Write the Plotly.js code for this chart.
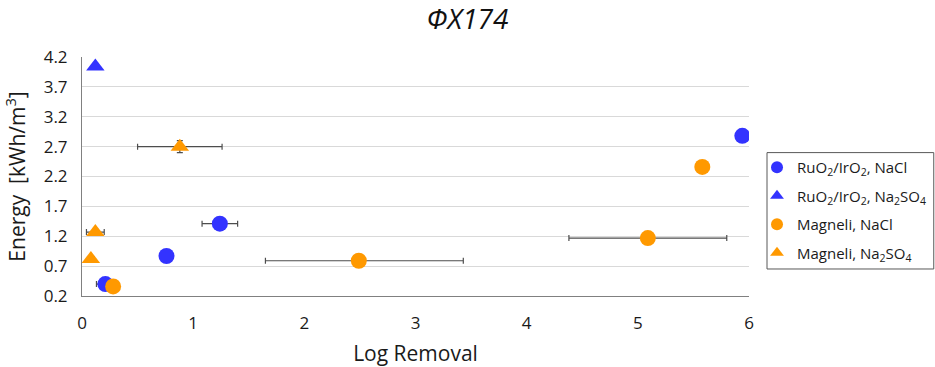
<!DOCTYPE html>
<html>
<head>
<meta charset="utf-8">
<script src="https://cdn.plot.ly/plotly-3.0.1.min.js"></script>
<style>
  html, body { margin: 0; padding: 0; background: #fff; }
  #chart { width: 935px; height: 367px; }
</style>
</head>
<body>
<div id="chart"></div>
<script>
// RuO2/IrO2 anode, NaCl electrolyte
const ruNaclX = [0.21, 0.76, 1.24, 5.94];
const ruNaclY = [0.40, 0.87, 1.41, 2.88];
const ruNaclErrX = [0.08, 0, 0.16, 0];

// RuO2/IrO2 anode, Na2SO4 electrolyte
const ruSulfX = [0.12];
const ruSulfY = [4.04];

// Magneli anode, NaCl electrolyte
const magNaclX = [0.28, 2.49, 5.09, 5.58];
const magNaclY = [0.36, 0.79, 1.17, 2.36];
const magNaclErrPlus = [0, 0.94, 0.71, 0];
const magNaclErrMinus = [0, 0.84, 0.71, 0];

// Magneli anode, Na2SO4 electrolyte
const magSulfX = [0.08, 0.12, 0.88];
const magSulfY = [0.82, 1.27, 2.70];
const magSulfErrX = [0.03, 0.08, 0.38];
const magSulfErrY = [0, 0, 0.1];

const seriesNames = [
  'RuO<sub>2</sub>/IrO<sub>2</sub>, NaCl',
  'RuO<sub>2</sub>/IrO<sub>2</sub>, Na<sub>2</sub>SO<sub>4</sub>',
  'Magneli, NaCl',
  'Magneli, Na<sub>2</sub>SO<sub>4</sub>'
];

const xTicks = [0, 1, 2, 3, 4, 5, 6];
const yTicks = [0.2, 0.7, 1.2, 1.7, 2.2, 2.7, 3.2, 3.7, 4.2];

const BLUE = '#3333ff';
const ORANGE = '#ff9900';
const ERR = '#4d4d4d';
const FONT = 'Open Sans, Noto Sans, sans-serif';
const TEXT = '#1a1a1a';

function errStyle(extra) {
  return Object.assign({ type: 'data', color: ERR, thickness: 1.2, width: 3 }, extra);
}

const traces = [
  {
    x: ruNaclX, y: ruNaclY, name: seriesNames[0], legendgroup: 'g1',
    type: 'scatter', mode: 'markers',
    marker: { color: BLUE, size: 16, symbol: 'circle' },
    error_x: errStyle({ array: ruNaclErrX, symmetric: true })
  },
  {
    x: ruSulfX, y: ruSulfY, name: seriesNames[1], legendgroup: 'g2',
    type: 'scatter', mode: 'markers',
    marker: { color: BLUE, size: 16, symbol: 'triangle-up' }
  },
  {
    x: magNaclX, y: magNaclY, name: seriesNames[2], legendgroup: 'g3',
    type: 'scatter', mode: 'markers',
    marker: { color: ORANGE, size: 16, symbol: 'circle' },
    error_x: errStyle({ array: magNaclErrPlus, arrayminus: magNaclErrMinus, symmetric: false })
  },
  {
    x: magSulfX, y: magSulfY, name: seriesNames[3], legendgroup: 'g4',
    type: 'scatter', mode: 'markers',
    marker: { color: ORANGE, size: 16, symbol: 'triangle-up' },
    error_x: errStyle({ array: magSulfErrX, symmetric: true }),
    error_y: errStyle({ array: magSulfErrY, symmetric: true })
  }
];

const layout = {
  width: 935, height: 367,
  margin: { l: 82, r: 186, t: 57, b: 71, autoexpand: false },
  paper_bgcolor: '#ffffff', plot_bgcolor: '#ffffff',
  font: { family: FONT, color: TEXT },
  title: {
    text: '<i>ΦX174</i>', xref: 'container', x: 0.5, xanchor: 'center',
    yref: 'container', y: 0.948, yanchor: 'middle',
    font: { family: FONT, size: 28, color: '#111111' }
  },
  xaxis: {
    range: [0, 6], tickvals: xTicks, ticktext: xTicks.map(String),
    showgrid: false, zeroline: false, showline: true, linecolor: '#808080', linewidth: 1,
    ticks: '', ticklabelstandoff: 12, tickfont: { size: 17, color: TEXT },
    title: { text: 'Log Removal', font: { size: 21, color: TEXT }, standoff: 20 }
  },
  yaxis: {
    range: [0.2, 4.2], tickvals: yTicks, ticktext: yTicks.map(v => v.toFixed(1)),
    showgrid: true, gridcolor: '#d9d9d9', gridwidth: 1, zeroline: false,
    showline: true, linecolor: '#808080', linewidth: 1,
    ticks: '', ticklabelstandoff: 10, tickfont: { size: 17, color: TEXT },
    title: { text: 'Energy  [kWh/m<sup>3</sup>]', font: { size: 21, color: TEXT }, standoff: 18 }
  },
  showlegend: true,
  legend: {
    x: 1.012, xanchor: 'left', y: 0.607, yanchor: 'top',
    borderwidth: 0, bgcolor: 'rgba(0,0,0,0)', itemsizing: 'constant',
    font: { family: FONT, size: 15, color: TEXT },
    tracegroupgap: 6
  },
  // legend frame
  shapes: [{
    type: 'rect', xref: 'paper', yref: 'paper',
    x0: 1.027, x1: 1.277, y0: 0.113, y1: 0.600,
    line: { color: '#595959', width: 1 }, fillcolor: 'rgba(0,0,0,0)', layer: 'below'
  }]
};

Plotly.newPlot('chart', traces, layout, { displayModeBar: false, staticPlot: true });
</script>
</body>
</html>
